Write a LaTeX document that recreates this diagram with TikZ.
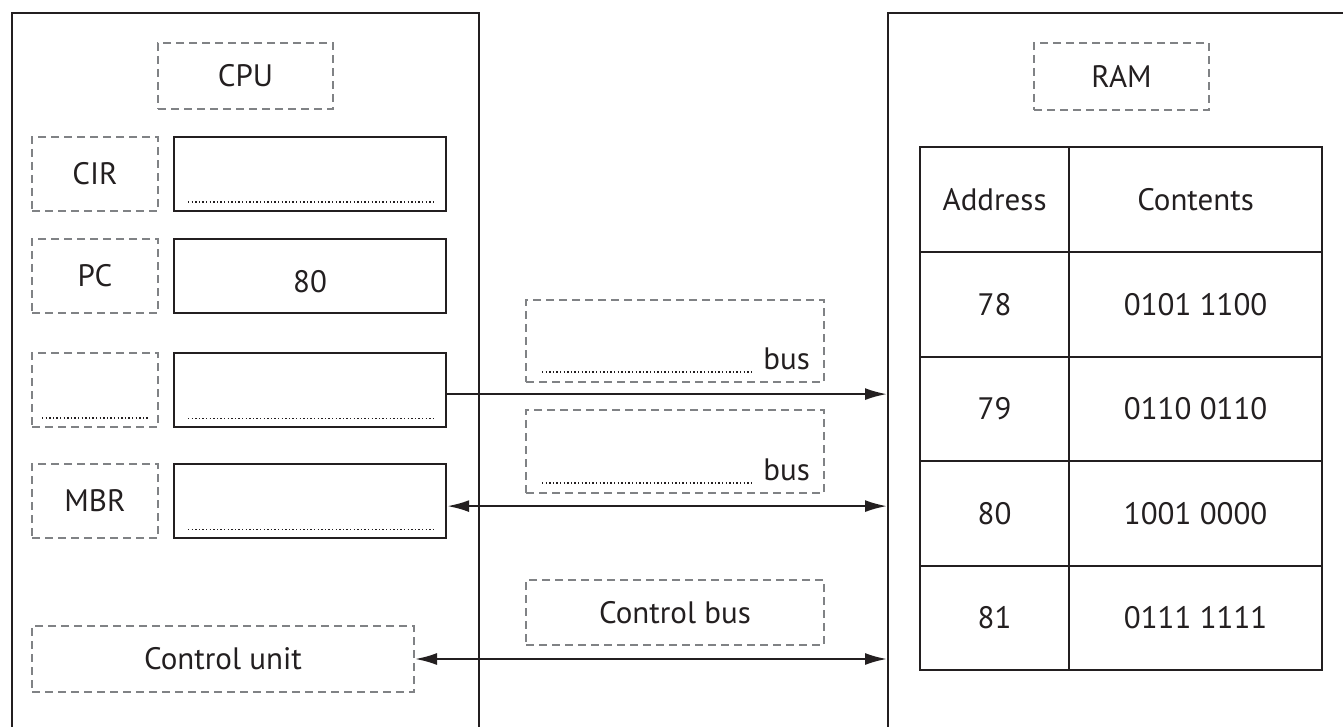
\documentclass[tikz,border=0pt]{standalone}
\usepackage{fontspec}
\setmainfont{PT Sans}
\usetikzlibrary{arrows.meta,positioning}
\definecolor{ink}{HTML}{231F20}
\definecolor{dashgray}{HTML}{808285}
\tikzset{
  box/.style={draw=ink, line width=2.2pt, anchor=north west, inner sep=0pt},
  dashbox/.style={draw=dashgray, line width=2pt, dash pattern=on 8pt off 5pt, anchor=north west, inner sep=0pt},
  dotline/.style={draw=ink, line width=1.4pt, dash pattern=on 1.4pt off 2.2pt},
  bus/.style={draw=ink, line width=2.2pt, -{Latex[length=22pt,width=12pt]}},
  dbus/.style={draw=ink, line width=2.2pt, {Latex[length=22pt,width=12pt]}-{Latex[length=22pt,width=12pt]}}
}

\begin{document}
\begin{tikzpicture}[x=1pt,y=-1pt,every node/.style={font=\fontsize{31}{37}\selectfont, text=ink}]
\useasboundingbox (0,0) rectangle (1343,727);
\clip (0,0) rectangle (1343,727);

% outer boxes, cut off at the bottom
\node[box, minimum width=467pt, minimum height=760pt] (cpu) at (11,12) {};
\node[box, minimum width=500pt, minimum height=760pt] (ram) at (887,12) {};

% CPU side
\node[dashbox, minimum width=175pt, minimum height=66pt] (cpulbl) at (157,42) {CPU};
\foreach \name/\y/\lbl in {cir/136/CIR, pc/238/PC, mar/352/, mbr/463/MBR} {
  \node[dashbox, minimum width=126pt, minimum height=74pt] (\name lbl) at (31,\y) {\lbl};
  \node[box, minimum width=272pt, minimum height=74pt] (\name) at (173,\y) {};
}
\foreach \name in {cir,mar,mbr}
  \draw[dotline] ([shift={(15,-10)}]\name.south west) -- ([shift={(-14,-10)}]\name.south east);
\draw[dotline] ([shift={(11,-10)}]marlbl.south west) -- ([shift={(-10,-10)}]marlbl.south east);
\node (pcval) at ([shift={(0,6)}]pc.center) {80};

\node[dashbox, minimum width=382pt, minimum height=66pt] (cu) at (31,625) {Control unit};

% buses
\node[dashbox, minimum width=298pt, minimum height=82pt] (abus) at (525,299) {};
\node[dashbox, minimum width=298pt, minimum height=83pt] (dbus) at (525,409) {};
\node[dashbox, minimum width=298pt, minimum height=65pt] (cbus) at (525,579) {Control bus};
\foreach \b in {abus,dbus} {
  \node[anchor=base east, inner sep=0pt] (\b txt) at ([shift={(-15,-14)}]\b.south east) {bus};
  \draw[dotline] ([shift={(17,-11)}]\b.south west) -- ([shift={(-73,-11)}]\b.south east);
}

\draw[bus] ([yshift=-4pt]mar.east) -- ([yshift=-4pt]mar.east -| ram.west);
\draw[dbus] ([yshift=-5pt]mbr.east) -- ([yshift=-5pt]mbr.east -| ram.west);
\draw[dbus] (cu.east) -- (cu.east -| ram.west);

% RAM side
\node[dashbox, minimum width=175pt, minimum height=67pt] (ramlbl) at (1033,42) {RAM};
\node[box, minimum width=149pt, minimum height=105pt] (hadr) at (919,146) {Address};
\node[box, minimum width=253pt, minimum height=105pt] (hcon) at (1068,146) {Contents};
\foreach \a/\c [count=\i] in {78/0101 1100, 79/0110 0110, 80/1001 0000, 81/0111 1111} {
  \node[box, minimum width=149pt, minimum height=104.5pt] (adr\i) at (919,{251+104.5*(\i-1)}) {\a};
  \node[box, minimum width=253pt, minimum height=104.5pt] (con\i) at (1068,{251+104.5*(\i-1)}) {\c};
}
\end{tikzpicture}
\end{document}
